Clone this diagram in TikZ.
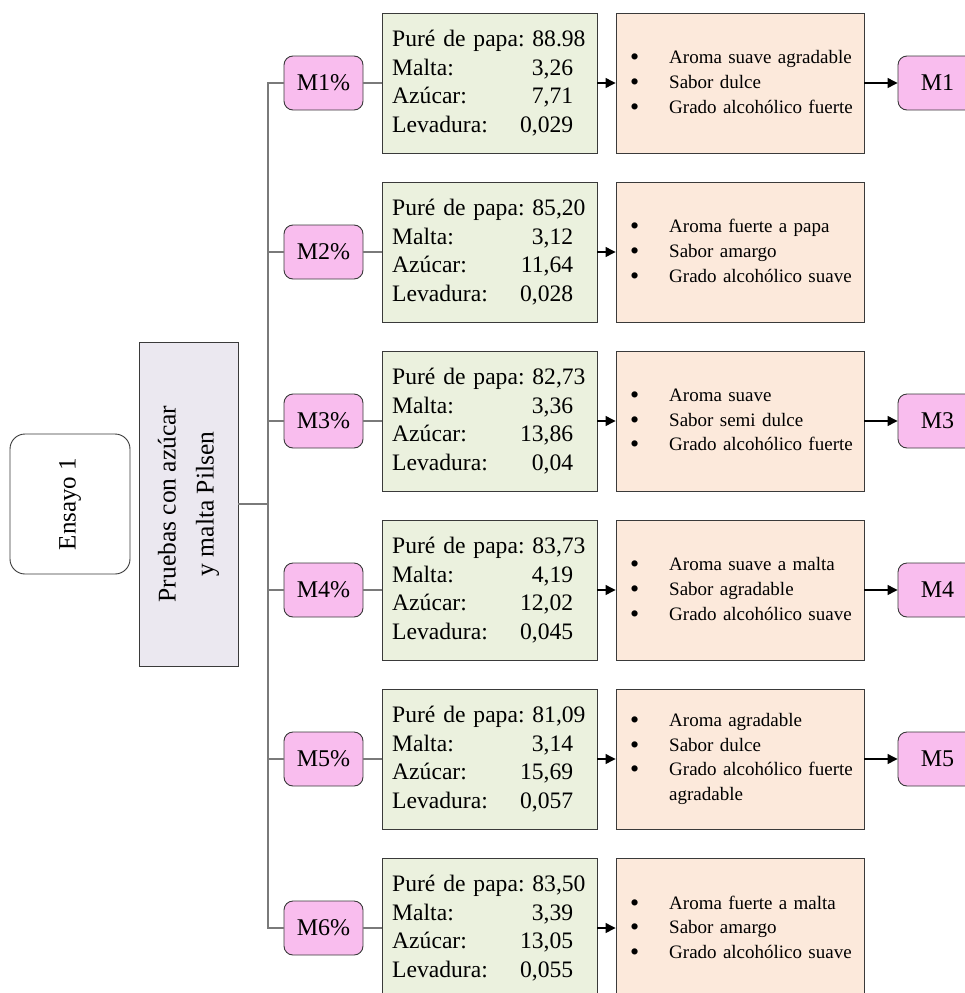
\documentclass[tikz,border=0pt]{standalone}
\usepackage{fontspec}
\setmainfont{Liberation Serif}
\usetikzlibrary{arrows.meta}
\definecolor{pinkfill}{HTML}{F9BDEE}
\definecolor{greenfill}{HTML}{EBF1DE}
\definecolor{orangefill}{HTML}{FCE9DB}
\definecolor{lavfill}{HTML}{EBE8F0}
\definecolor{boxline}{HTML}{3A3A3A}
\definecolor{connline}{HTML}{7A7A7A}
\frenchspacing
\begin{document}
\begin{tikzpicture}[x=1pt,y=-1pt,
  frame/.style={draw=boxline,line width=0.9pt,inner sep=0pt},
  mbox/.style={frame,fill=pinkfill,rounded corners=9pt,minimum width=79pt,minimum height=54pt,
    font=\fontsize{24}{28}\selectfont},
  greenbox/.style={frame,fill=greenfill,minimum width=215pt,minimum height=140pt},
  greentext/.style={anchor=west,inner sep=0pt,text width=181pt,font=\fontsize{23.6}{28.7}\selectfont},
  orangebox/.style={frame,fill=orangefill,minimum width=248pt,minimum height=140pt},
  orangetext/.style={anchor=west,inner sep=0pt,text width=225pt,font=\fontsize{19}{24.7}\selectfont},
  conn/.style={draw=connline,line width=1.3pt},
  arr/.style={draw=black,line width=1.2pt,-{Triangle[length=10pt,width=10pt]}}]
\useasboundingbox (0,0) rectangle (964,993);
\newcommand{\bul}{\makebox[39pt][l]{\raisebox{-2pt}{\fontsize{26}{24.7}\selectfont\textbullet}}}
\newcommand{\cont}{\hspace*{39pt}}
\newcommand{\firstline}[1]{\noindent\makebox[181pt][l]{#1}}

% left title boxes
\node[frame,fill=white,rounded corners=15pt,rotate=90,minimum width=140pt,minimum height=120pt,
  font=\fontsize{25}{30}\selectfont] (ens) at (70,504) {Ensayo 1};
\node[frame,fill=lavfill,rotate=90,minimum width=324pt,minimum height=99pt,align=center,
  font=\fontsize{25.5}{38}\selectfont] (pr) at (188.5,504) {Pruebas con azúcar\\y malta Pilsen};

% trunk coordinates
\coordinate (tt) at (268,83);

% row 1
\node[mbox] (p1) at (323.5,83) {M1\%};
\node[greenbox] (g1) at (489.5,83) {};
\node[greentext] (gt1) at (392,83) {\firstline{Puré de papa: 88.98}\\Malta:\hfill 3,26\\Azúcar:\hfill 7,71\\Levadura:\hfill 0,029};
\node[orangebox] (r1) at (740,83) {};
\node[orangetext] (rt1) at (630,83) {\noindent\bul Aroma suave agradable\\\bul Sabor dulce\\\bul Grado alcohólico fuerte};
\node[mbox] (o1) at (937.5,83) {M1};

% row 2
\node[mbox] (p2) at (323.5,252) {M2\%};
\node[greenbox] (g2) at (489.5,252) {};
\node[greentext] (gt2) at (392,252) {\firstline{Puré de papa: 85,20}\\Malta:\hfill 3,12\\Azúcar:\hfill 11,64\\Levadura:\hfill 0,028};
\node[orangebox] (r2) at (740,252) {};
\node[orangetext] (rt2) at (630,252) {\noindent\bul Aroma fuerte a papa\\\bul Sabor amargo\\\bul Grado alcohólico suave};

% row 3
\node[mbox] (p3) at (323.5,421) {M3\%};
\node[greenbox] (g3) at (489.5,421) {};
\node[greentext] (gt3) at (392,421) {\firstline{Puré de papa: 82,73}\\Malta:\hfill 3,36\\Azúcar:\hfill 13,86\\Levadura:\hfill 0,04\hspace*{6pt}};
\node[orangebox] (r3) at (740,421) {};
\node[orangetext] (rt3) at (630,421) {\noindent\bul Aroma suave\\\bul Sabor semi dulce\\\bul Grado alcohólico fuerte};
\node[mbox] (o3) at (937.5,421) {M3};

% row 4
\node[mbox] (p4) at (323.5,590) {M4\%};
\node[greenbox] (g4) at (489.5,590) {};
\node[greentext] (gt4) at (392,590) {\firstline{Puré de papa: 83,73}\\Malta:\hfill 4,19\\Azúcar:\hfill 12,02\\Levadura:\hfill 0,045};
\node[orangebox] (r4) at (740,590) {};
\node[orangetext] (rt4) at (630,590) {\noindent\bul Aroma suave a malta\\\bul Sabor agradable\\\bul Grado alcohólico suave};
\node[mbox] (o4) at (937.5,590) {M4};

% row 5
\node[mbox] (p5) at (323.5,759) {M5\%};
\node[greenbox] (g5) at (489.5,759) {};
\node[greentext] (gt5) at (392,759) {\firstline{Puré de papa: 81,09}\\Malta:\hfill 3,14\\Azúcar:\hfill 15,69\\Levadura:\hfill 0,057};
\node[orangebox] (r5) at (740,759) {};
\node[orangetext] (rt5) at (630,759) {\noindent\bul Aroma agradable\\\bul Sabor dulce\\\bul Grado alcohólico fuerte\\\cont agradable};
\node[mbox] (o5) at (937.5,759) {M5};

% row 6
\node[mbox] (p6) at (323.5,928) {M6\%};
\node[greenbox] (g6) at (489.5,928) {};
\node[greentext] (gt6) at (392,928) {\firstline{Puré de papa: 83,50}\\Malta:\hfill 3,39\\Azúcar:\hfill 13,05\\Levadura:\hfill 0,055};
\node[orangebox] (r6) at (740,928) {};
\node[orangetext] (rt6) at (630,928) {\noindent\bul Aroma fuerte a malta\\\bul Sabor amargo\\\bul Grado alcohólico suave};

% tree connectors
\draw[conn] (p1.west) -- (p1.west -| tt) -- (p6.west -| tt) -- (p6.west);
\draw[conn] (pr.south) -- (pr.south -| tt);
\foreach \i in {2,3,4,5} {
  \draw[conn] (p\i.west -| tt) -- (p\i.west);
}
\foreach \i in {1,...,6} {
  \draw[conn] (p\i.east) -- (g\i.west);
  \draw[arr] (g\i.east) -- (r\i.west);
}
\foreach \i in {1,3,4,5} {
  \draw[arr] (r\i.east) -- (o\i.west);
}
\end{tikzpicture}
\end{document}
